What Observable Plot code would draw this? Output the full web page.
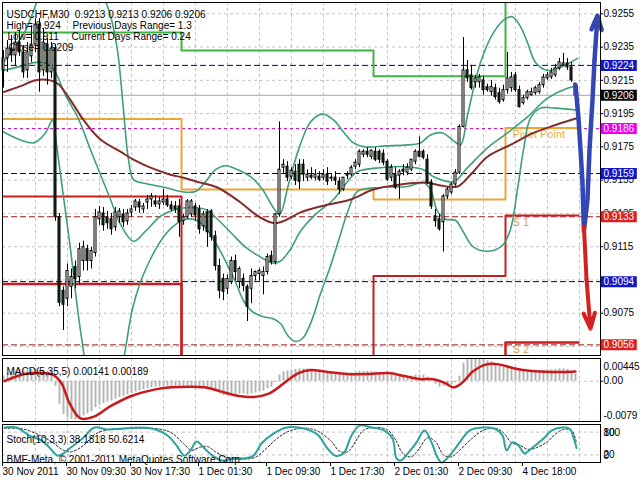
<!DOCTYPE html>
<html><head><meta charset="utf-8">
<script src="https://cdn.jsdelivr.net/npm/d3@7"></script>
<script src="https://cdn.jsdelivr.net/npm/@observablehq/plot@0.6"></script>
<style>
html,body{margin:0;padding:0;background:#fff;}
#wrap{position:relative;width:640px;height:480px;overflow:hidden;background:#fff;}
#wrap svg{position:absolute;left:0;}
</style></head><body><div id="wrap"></div>
<script>
// ---------- DATA ----------
const openP = [
.92210,.92282,.92341,.92300,.92377,.92318,.92210,.92294,.92365,.92485,
.92210,.92365,.92198,.92341,.91327,.90885,.90837,.90909,.91028,.90968,
.91064,.91135,.91064,.91112,.91315,.91350,.91327,.91315,.91267,.91327,
.91344,.91303,.91356,.91386,.91416,.91374,.91416,.91434,.91422,.91404,
.91416,.91434,.91398,.91392,.91392,.91303,.91327,.91344,.91392,.91374,
.91273,.91356,.91362,.91213,.91034,.90956,.90897,.90938,.91064,.90938,
.90956,.90909,.90897,.90974,.90986,.90974,.90998,.91094,.91058,.91344,
.91625,.91631,.91571,.91601,.91643,.91643,.91565,.91577,.91565,.91571,
.91565,.91583,.91559,.91565,.91541,.91494,.91577,.91583,.91631,.91643,
.91703,.91721,.91691,.91721,.91721,.91709,.91661,.91565,.91583,.91577,
.91613,.91595,.91613,.91661,.91721,.91721,.91673,.91536,.91333,.91315,
.91297,.91452,.91476,.91524,.91595,.91870,.92210,.92180,.92138,.92138,
.92150,.92109,.92079,.92103,.92073,.92031,.92091,.92103,.92180,.92091,
.92013,.92043,.92061,.92073,.92079,.92121,.92162,.92168,.92180,.92222,
.92240,.92252,.92228,.9213];
const highP = [
.92329,.92389,.92419,.92437,.92449,.92359,.92377,.92479,.92521,.92521,
.92461,.92401,.92377,.92365,.91350,.90909,.91046,.91016,.91064,.91171,
.91183,.91159,.91147,.91374,.91392,.91386,.91362,.91350,.91386,.91380,
.91374,.91374,.91398,.91434,.91434,.91410,.91458,.91470,.91458,.91446,
.91494,.91458,.91422,.91422,.91434,.91344,.91434,.91434,.91410,.91398,
.91362,.91374,.91374,.91243,.91076,.90986,.90980,.91088,.91100,.91028,
.90986,.90921,.91016,.91004,.91016,.91028,.91106,.91124,.91350,.91900,
.91673,.91661,.91625,.91643,.91673,.91673,.91613,.91625,.91613,.91601,
.91613,.91625,.91583,.91601,.91565,.91565,.91601,.91637,.91673,.91732,
.91732,.91744,.91732,.91744,.91732,.91732,.91673,.91643,.91625,.91613,
.91643,.91649,.91673,.91732,.91810,.91732,.91703,.91553,.91374,.91344,
.91464,.91506,.91535,.91613,.91882,.92407,.92270,.92240,.92180,.92186,
.92174,.92127,.92150,.92127,.92103,.92121,.92318,.92198,.92198,.92115,
.92061,.92091,.92103,.92115,.92138,.92186,.92198,.92222,.92246,.92282,
.92312,.92282,.92258,.9213];
const lowP = [
.92103,.92198,.92258,.92234,.92294,.92162,.92162,.92258,.92318,.92079,
.92174,.92121,.92162,.91303,.90789,.90646,.90789,.90837,.90897,.90921,
.91004,.91004,.91016,.91088,.91279,.91243,.91255,.91219,.91243,.91291,
.91267,.91279,.91327,.91362,.91350,.91350,.91374,.91386,.91386,.91374,
.91398,.91386,.91362,.91350,.91207,.91279,.91315,.91327,.91303,.91225,
.91243,.91147,.91183,.91004,.90837,.90825,.90861,.90921,.90944,.90897,
.90879,.90700,.90807,.90944,.90944,.90861,.90980,.91040,.91040,.91327,
.91583,.91541,.91553,.91518,.91494,.91541,.91541,.91553,.91547,.91541,
.91547,.91518,.91541,.91518,.91464,.91482,.91553,.91571,.91613,.91625,
.91685,.91685,.91673,.91661,.91649,.91637,.91541,.91541,.91494,.91434,
.91577,.91577,.91601,.91643,.91685,.91673,.91524,.91374,.91267,.91243,
.91118,.91434,.91464,.91512,.91583,.91864,.92138,.92091,.92103,.92103,
.92061,.92079,.92055,.92031,.92007,.92019,.92067,.92079,.92079,.91983,
.92001,.92031,.92055,.92061,.92067,.92103,.92150,.92156,.92168,.92210,
.92234,.92210,.92138,.9206];
const closeP = [
.92282,.92341,.92300,.92377,.92318,.92198,.92318,.92365,.92485,.92198,
.92377,.92198,.92341,.91327,.90813,.90801,.91004,.90968,.90956,.91135,
.91147,.91064,.91124,.91327,.91356,.91279,.91291,.91255,.91356,.91362,
.91297,.91350,.91374,.91422,.91386,.91392,.91434,.91452,.91404,.91422,
.91434,.91398,.91374,.91374,.91297,.91327,.91422,.91422,.91338,.91255,
.91344,.91237,.91207,.91034,.90885,.90879,.90956,.91064,.90998,.91016,
.90915,.90789,.90974,.90998,.91004,.90998,.91088,.91058,.91344,.91613,
.91643,.91565,.91607,.91547,.91541,.91583,.91583,.91565,.91583,.91553,
.91583,.91541,.91565,.91547,.91494,.91565,.91583,.91625,.91655,.91721,
.91721,.91703,.91727,.91673,.91673,.91655,.91553,.91625,.91506,.91601,
.91601,.91625,.91673,.91721,.91691,.91685,.91536,.91392,.91303,.91255,
.91452,.91494,.91524,.91595,.91870,.92210,.92162,.92103,.92162,.92168,
.92091,.92091,.92109,.92049,.92019,.92091,.92162,.92168,.92091,.91989,
.92043,.92079,.92079,.92103,.92121,.92168,.92180,.92198,.92222,.92258,
.92252,.92228,.92150,.9206];

// moving average (maroon), read at bar positions
const maBar = [0,4.25,8,11.75,13.75,16.75,20,24.25,29.25,32.5,36.75,41.75,45,49.25,53.5,59.25,63,66,68,70.5,74.25,79.25,86.75,92.5,99.25,106,109.25,113.5,116.75,121,126.75,132.5,138,143.5];
const maVal = [.92079,.92115,.9215,.9215,.92127,.92031,.91912,.91794,.91721,.91673,.91625,.91583,.91565,.91535,.91506,.91416,.91344,.91303,.91291,.91309,.91356,.91392,.91434,.91494,.91524,.91535,.91518,.91512,.91583,.91691,.91762,.91834,.91882,.91924];

// Bollinger bands
const bbUpBar = [0,3,5.5,7.5,9.25,11.75,16.75,21.75,25,26.75,28.5,30,31.25,32.5,35.5,40.5,44.25,48,50.5,53,55.5,58,61.75,64.75,67.25,69,71.25,73.75,76.75,79.75,82.5,85,87.5,90.5,95.5,101,104.25,106.75,109.75,112.25,114.25,116,119.25,122.5,125.5,127.25,129.25,131,133,136,139.25,143.5];
const bbUpVal = [.92258,.92359,.92449,.92568,.92688,.92867,.92986,.92867,.92658,.92538,.92329,.91971,.91673,.91553,.91530,.91506,.91482,.91482,.91541,.91613,.91637,.91619,.91571,.91494,.91392,.91344,.91524,.91732,.91900,.91947,.91912,.91840,.91774,.91750,.91756,.91762,.91774,.91822,.91834,.91792,.91762,.91940,.92258,.92437,.92521,.92532,.92473,.92377,.92258,.92210,.92228,.92282];
const bbMidBar = [0,4.25,8,11.25,13,15.5,18.75,21.75,24.25,26.75,29.25,32.5,35.5,39.25,43,46.75,50.5,53,56.75,60.5,64.25,67.25,69.25,71.75,74.25,78,82.5,86,88.5,94.25,101,105,107.5,112.5,116,121,126,131,136,141,143.5];
const bbMidVal = [.92210,.92234,.92258,.92246,.92198,.92061,.91918,.91733,.91583,.91434,.91285,.91183,.91243,.91333,.91374,.91386,.91374,.91327,.91237,.91147,.91088,.91052,.91064,.91135,.91243,.91344,.91434,.91541,.91601,.91625,.91631,.91613,.91571,.91541,.91625,.91744,.91834,.91930,.92043,.92103,.92115];
const bbLoBar = [0,4.25,7.5,10.5,12.25,13.25,14.75,16.75,18.5,20,21.75,24.25,27.25,29.25,30.5,32.25,34.25,36.75,38.5,40.5,42.5,44.75,47.5,49.75,52.5,55.5,58,60,62.25,64.75,67.25,69.25,71.25,73,74.75,76.75,79.25,81.75,84.25,86,88.5,94.25,101,105,106.75,108.5,110.5,113,115,117.5,121.75,125,126.75,128.5,130,131.75,134.25,138,143.5];
const bbLoVal = [.91840,.91792,.91774,.91834,.91912,.91762,.91494,.91135,.90777,.90521,.90240,.90061,.90121,.90359,.90538,.90777,.90938,.91076,.91153,.91225,.91273,.91309,.91315,.91285,.91195,.91064,.90938,.90825,.90759,.90730,.90718,.90688,.90610,.90580,.90598,.90688,.90867,.91034,.91225,.91356,.91482,.91506,.91512,.91535,.91494,.91362,.91315,.91309,.91237,.91147,.91124,.91165,.91255,.91494,.91733,.91924,.91983,.91983,.91971];

// daily pivot levels (one value per day)
const dayStart = [-0.25, 44.5, 92.5, 125.5];
const dayEnd = 143.75;
const pivotPP = [0.91918, 0.91494, 0.91434, 0.91864];
const pivotR1 = [0.92437, 0.92329, 0.92174, 0.93000];
const pivotS1 = [0.91452, 0.90000, 0.90974, 0.91338];
const pivotS2 = [0.90926, 0.89900, 0.89900, 0.90574];

// horizontal levels
const blueLevels = [0.9224, 0.9159, 0.9094];
const redLevels = [0.9133, 0.9056];
const magentaLevels = [0.9186];
const currentPrice = [0.9206];
const priceTicks = [0.9255,0.9235,0.9215,0.9195,0.9175,0.9155,0.9135,0.9115,0.9095,0.9075,0.9055];
const priceTickLabels = [0.9255,0.9235,0.9215,0.9195,0.9175,0.9155,0.9135,0.9115,0.9075];
const boxValues = [0.9224, 0.9206, 0.9186, 0.9159, 0.9133, 0.9094, 0.9056];
const boxColors = ["#1414c8", "#000000", "#f000f0", "#1414c8", "#e02020", "#1414c8", "#e02020"];

// forecast arrows
const blueFcBar = [143, 143.75, 144.25, 144.75, 145.1, 146, 146.5, 147.25, 147.75, 148.5];
const blueFcVal = [.92121, .91922, .91733, .91535, .91243, .91434, .91733, .92031, .92270, .92539];
const redFcBar = [145.1, 145.75, 146.75];
const redFcVal = [.91273, .90956, .90657];

// MACD
const macdHist = [.0010,.0015,.0018,.0020,.0022,.0021,.0022,.0023,.0024,.0022,
 .0022,.0020,.0020,-.0010,-.0045,-.0065,-.0072,-.0075,-.0076,-.0072,
 -.0068,-.0064,-.0060,-.0052,-.0047,-.0044,-.0041,-.0039,-.0035,-.0032,
 -.0030,-.0027,-.0024,-.0021,-.0019,-.0017,-.0015,-.0013,-.0012,-.0011,
 -.0010,-.0010,-.0010,-.0010,-.0012,-.0012,-.0010,-.0010,-.0011,-.0013,
 -.0013,-.0015,-.0016,-.0020,-.0025,-.0028,-.0028,-.0027,-.0026,-.0025,
 -.0025,-.0027,-.0025,-.0023,-.0021,-.0019,-.0015,-.0012,-.0003,.0012,
 .0018,.0020,.0022,.0023,.0024,.0024,.0024,.0023,.0022,.0021,
 .0020,.0019,.0018,.0017,.0015,.0015,.0015,.0016,.0017,.0019,
 .0019,.0019,.0019,.0018,.0017,.0016,.0013,.0012,.0009,.0009,
 .0009,.0009,.0010,.0012,.0012,.0012,.0008,.0002,-.0006,-.0012,
 -.0010,-.0008,-.0006,-.0003,.0010,.0035,.0042,.0045,.0045,.0044,
 .0043,.0040,.0038,.0035,.0032,.0030,.0030,.0029,.0027,.0022,
 .0021,.0020,.0020,.0020,.0020,.0021,.0022,.0022,.0023,.0024,
 .0024,.0023,.0019,.00141];
const macdSigBar = [0.25,5.25,9.5,12.5,14.5,16.5,19.25,22.75,26.75,32,38,42,50.25,54.25,57.5,62.5,66.5,70.75,73.75,76.75,81,86,91,96.25,100.25,104.25,107.5,110.5,112.5,114.5,117.5,120.75,123.75,127.75,132,137,140,143];
const macdSigVal = [0,.0014,.0016,.0012,-.0004,-.0043,-.0073,-.0069,-.0049,-.0029,-.0016,-.0012,-.0012,-.0020,-.0027,-.0031,-.0024,0,.0016,.0022,.0018,.0014,.0014,.0016,.0010,.0004,.0004,-.0004,-.0012,-.0004,.0020,.0033,.0033,.0025,.0020,.0018,.0018,.00189];
const macdTicks = [0.00445, 0, -0.0079];

// Stochastic
const stMainBar = [0.25,3.25,6.5,9.5,11.5,13.5,15,16.5,19.75,22.75,25.75,29.75,34,38,41,43.25,45.25,46.75,48.25,50.25,52.25,54.75,57.5,60.5,62.5,64.5,67.5,70.75,73.75,76.75,78.75,81,83,85,87,89,92,95.25,97.25,98.25,99.25,101.25,103.25,105.25,107,108.5,109.5,111.5,113.5,116.5,119.75,122.75,124.75,125.75,127.25,128.75,130.25,132,135,137,139.5,141.5,142.5,143.25];
const stMainVal = [92,92,71,58,39,18,24,37,63,92,87,89,92,87,71,45,18,32,55,37,18,5,11,11,18,50,76,92,92,84,71,37,18,24,71,97,92,84,63,11,5,26,53,84,53,13,0,18,45,84,92,89,71,32,53,45,24,37,63,84,92,89,66,38.18];
const stSigBar = [0.25,5,9,12,15,17,20,23,27,33,39,42,45,47,49,51,53,56,60,63,66,69,72,76,79,82,84,86,88,90,93,96,98,100,102,104,106,108,110,112,114,117,120,123,125,127,129,131,133,136,138,140,142,143.25];
const stSigVal = [90,88,72,55,32,28,45,75,88,90,88,78,50,32,40,42,28,12,9,14,40,68,85,90,80,55,30,28,55,85,92,86,60,22,15,38,65,55,20,15,32,62,85,90,78,52,46,35,38,55,75,87,85,50.62];
const stTicks = [100, 80, 20, 0];

// time axis
const gridBars = [8,16,24,32,40,48,56,64,72,80,88,96,104,112,120,128,136,144];
const dateBars = [0,16,32,49,66,82,98,114,130];
const dateLabels = ["30 Nov 2011","30 Nov 09:30","30 Nov 17:30","1 Dec 01:30","1 Dec 09:30","1 Dec 17:30","2 Dec 01:30","2 Dec 09:30","4 Dec 18:00"];

// ---------- BUILD ----------
const bars = closeP.map((c, i) => ({i, o: openP[i], h: highP[i], l: lowP[i], c}));
const stepPts = vals => [...dayStart.map((x, k) => ({x, v: vals[k]})), {x: dayEnd, v: vals[vals.length - 1]}];
const boxes = boxValues.map((v, k) => ({v, bg: boxColors[k]}));
const FONT = '"Liberation Sans", Arial, sans-serif';
const baseStyle = {fontFamily: FONT, fontSize: "10px", background: "transparent", overflow: "visible", color: "black"};
const XD = [-0.25, 149.25];
const XR = 149.25;
const gridOpt = {stroke: "#c4c4c4", strokeDasharray: "3,3", strokeWidth: 1};
const teal = "#3f9f7a";
const nBlue = blueFcBar.length, nRed = redFcBar.length;

const main = Plot.plot({
  width: 640, height: 357, marginLeft: 2, marginRight: 40, marginTop: 2, marginBottom: 2,
  x: {domain: XD, axis: null},
  y: {domain: [0.90496, 0.92618], axis: null},
  color: {type: "identity"},
  style: baseStyle,
  marks: [
    Plot.ruleY(priceTicks, gridOpt),
    Plot.ruleX(gridBars, gridOpt),
    Plot.ruleY(currentPrice, {stroke: "#a8a8a8", strokeWidth: 1}),
    Plot.ruleY(blueLevels, {stroke: "#000080", strokeDasharray: "6,3", strokeWidth: 1}),
    Plot.ruleY(redLevels, {stroke: "#a01818", strokeDasharray: "6,3", strokeWidth: 1}),
    Plot.ruleY(magentaLevels, {stroke: "#c000c0", strokeDasharray: "3,3", strokeWidth: 1}),
    Plot.line(stepPts(pivotPP), {x: "x", y: "v", curve: "step-after", stroke: "#eba63a", strokeWidth: 2, clip: true}),
    Plot.line(stepPts(pivotR1), {x: "x", y: "v", curve: "step-after", stroke: "#3cb443", strokeWidth: 2, clip: true}),
    Plot.line(stepPts(pivotS1), {x: "x", y: "v", curve: "step-after", stroke: "#c81e1e", strokeWidth: 2, clip: true}),
    Plot.line(stepPts(pivotS2), {x: "x", y: "v", curve: "step-after", stroke: "#c81e1e", strokeWidth: 2.5, clip: true}),
    Plot.text(["Pivot Point"], {x: 127.25, y: pivotPP[3], dy: 7, textAnchor: "start", fill: "#e2ac55", fontSize: 11}),
    Plot.text(["S 1"], {x: 127.25, y: pivotS1[3], dy: 7, textAnchor: "start", fill: "#d9a24e", fontSize: 11}),
    Plot.text(["S 2"], {x: 127.25, y: pivotS2[3], dy: 7, textAnchor: "start", fill: "#d9a24e", fontSize: 11}),
    Plot.line(bbUpVal, {x: bbUpBar, y: bbUpVal, stroke: teal, strokeWidth: 1.6, curve: "catmull-rom", clip: true}),
    Plot.line(bbMidVal, {x: bbMidBar, y: bbMidVal, stroke: teal, strokeWidth: 1.6, curve: "catmull-rom", clip: true}),
    Plot.line(bbLoVal, {x: bbLoBar, y: bbLoVal, stroke: teal, strokeWidth: 1.6, curve: "catmull-rom", clip: true}),
    Plot.line(maVal, {x: maBar, y: maVal, stroke: "#842c2c", strokeWidth: 2, curve: "catmull-rom", clip: true}),
    Plot.ruleX(bars, {x: "i", y1: "l", y2: "h", stroke: "black", strokeWidth: 1}),
    Plot.rect(bars, {x1: d => d.i - 0.25, x2: d => d.i + 0.25, y1: "o", y2: "c",
      fill: d => d.c >= d.o ? "white" : "#143c14", stroke: "black", strokeWidth: 1}),
    Plot.line(blueFcVal.slice(0, nBlue - 1), {x: blueFcBar.slice(0, nBlue - 1), y: blueFcVal.slice(0, nBlue - 1), stroke: "#3446b4", strokeWidth: 4.5, strokeLinejoin: "round", strokeLinecap: "round"}),
    Plot.arrow([0], {x1: blueFcBar[nBlue - 2], y1: blueFcVal[nBlue - 2], x2: blueFcBar[nBlue - 1], y2: blueFcVal[nBlue - 1], stroke: "#3446b4", strokeWidth: 4.5, headLength: 16, headAngle: 40}),
    Plot.line(redFcVal.slice(0, nRed - 1), {x: redFcBar.slice(0, nRed - 1), y: redFcVal.slice(0, nRed - 1), stroke: "#d42020", strokeWidth: 4, strokeLinecap: "round"}),
    Plot.arrow([0], {x1: redFcBar[nRed - 2], y1: redFcVal[nRed - 2], x2: redFcBar[nRed - 1], y2: redFcVal[nRed - 1], stroke: "#d42020", strokeWidth: 4, headLength: 16, headAngle: 40}),
    Plot.frame({stroke: "black"}),
    Plot.text(["USDCHF,M30  0.9213 0.9213 0.9206 0.9206"], {frameAnchor: "top-left", dx: 4, dy: 8, textAnchor: "start", fill: "black"}),
    Plot.text(["High= 0.924"], {frameAnchor: "top-left", dx: 4, dy: 19, textAnchor: "start", fill: "black"}),
    Plot.text(["Previous Days Range= 1.3"], {frameAnchor: "top-left", dx: 70, dy: 19, textAnchor: "start", fill: "black"}),
    Plot.text(["Low= 0.911"], {frameAnchor: "top-left", dx: 5, dy: 30, textAnchor: "start", fill: "black"}),
    Plot.text(["Current Days Range= 0.24"], {frameAnchor: "top-left", dx: 69, dy: 30, textAnchor: "start", fill: "black"}),
    Plot.text(["Close= 0.9209"], {frameAnchor: "top-left", dx: 6, dy: 41, textAnchor: "start", fill: "black"}),
    Plot.ruleY(priceTicks, {x1: XR, x2: XR + 0.75, stroke: "black"}),
    Plot.text(priceTickLabels, {x: XR, y: d => d, text: d => d.toFixed(4), dx: 3, textAnchor: "start", fill: "black"}),
    Plot.ruleY(boxes, {y: "v", x1: XR + 0.2, x2: XR + 9.2, stroke: "bg", strokeWidth: 11}),
    Plot.text(boxes, {x: XR, y: "v", text: d => d.v.toFixed(4), dx: 3, textAnchor: "start", fill: "white"})
  ]
});

const macd = Plot.plot({
  width: 640, height: 67, marginLeft: 2, marginRight: 40, marginTop: 2, marginBottom: 2,
  x: {domain: XD, axis: null},
  y: {domain: [-0.0079, 0.00445], axis: null},
  style: baseStyle,
  marks: [
    Plot.ruleX(gridBars, gridOpt),
    Plot.ruleY([0], gridOpt),
    Plot.ruleX(macdHist, {x: (d, i) => i, y1: 0, y2: d => d, stroke: "#b4b4b4", strokeWidth: 2}),
    Plot.line(macdSigVal, {x: macdSigBar, y: macdSigVal, stroke: "#c81a1a", strokeWidth: 2.5, curve: "catmull-rom"}),
    Plot.frame({stroke: "black"}),
    Plot.text(["MACD(5,35,5) 0.00141 0.00189"], {frameAnchor: "top-left", dx: 4, dy: 9, textAnchor: "start", fill: "black"}),
    Plot.text([macdTicks[0]], {x: XR, y: d => d, text: d => d.toFixed(5), dx: 3, dy: 8, textAnchor: "start", fill: "black"}),
    Plot.text([macdTicks[1]], {x: XR, y: d => d, text: d => d.toFixed(2), dx: 3, textAnchor: "start", fill: "black"}),
    Plot.text([macdTicks[2]], {x: XR, y: d => d, text: d => d.toFixed(4), dx: 3, dy: -6, textAnchor: "start", fill: "black"}),
    Plot.ruleY([macdTicks[1]], {x1: XR, x2: XR + 0.75, stroke: "black"})
  ]
});

const labelOf = new Map(dateBars.map((b, k) => [b, dateLabels[k]]));
const stoch = Plot.plot({
  width: 640, height: 58, marginLeft: 2, marginRight: 40, marginTop: 2, marginBottom: 18,
  x: {domain: XD, axis: null},
  y: {domain: [0, 100], axis: null},
  style: baseStyle,
  marks: [
    Plot.ruleX(gridBars, gridOpt),
    Plot.ruleY([20, 80], gridOpt),
    Plot.line(stSigVal, {x: stSigBar, y: stSigVal, stroke: "#202020", strokeWidth: 1, strokeDasharray: "2,2", curve: "catmull-rom"}),
    Plot.line(stMainVal, {x: stMainBar, y: stMainVal, stroke: "#2aa3a0", strokeWidth: 2, curve: "catmull-rom"}),
    Plot.frame({stroke: "black"}),
    Plot.text(["Stoch(10,3,3) 38.1818 50.6214"], {frameAnchor: "top-left", dx: 4, dy: 11, textAnchor: "start", fill: "black"}),
    Plot.text(["BMF-Meta, © 2001-2011 MetaQuotes Software Corp."], {frameAnchor: "top-left", dx: 4, dy: 31, textAnchor: "start", fill: "black"}),
    Plot.text([stTicks[0]], {x: XR, y: d => d, text: d => String(d), dx: 3, dy: 8, textAnchor: "start", fill: "black"}),
    Plot.text([stTicks[1]], {x: XR, y: d => d, text: d => String(d), dx: 3, dy: 1, textAnchor: "start", fill: "black"}),
    Plot.text([stTicks[2]], {x: XR, y: d => d, text: d => String(d), dx: 3, dy: 0, textAnchor: "start", fill: "black"}),
    Plot.text([stTicks[3]], {x: XR, y: d => d, text: d => String(d), dx: 3, dy: -7, textAnchor: "start", fill: "black"}),
    Plot.axisX(dateBars, {tickSize: 4, tickPadding: 1, tickFormat: d => labelOf.get(d), textAnchor: "start", dx: -1, label: null, fill: "black", stroke: "black"})
  ]
});

const wrap = document.getElementById("wrap");
main.style.top = "0px";
macd.style.top = "356px";
stoch.style.top = "422px";
wrap.append(main, macd, stoch);
</script></body></html>
